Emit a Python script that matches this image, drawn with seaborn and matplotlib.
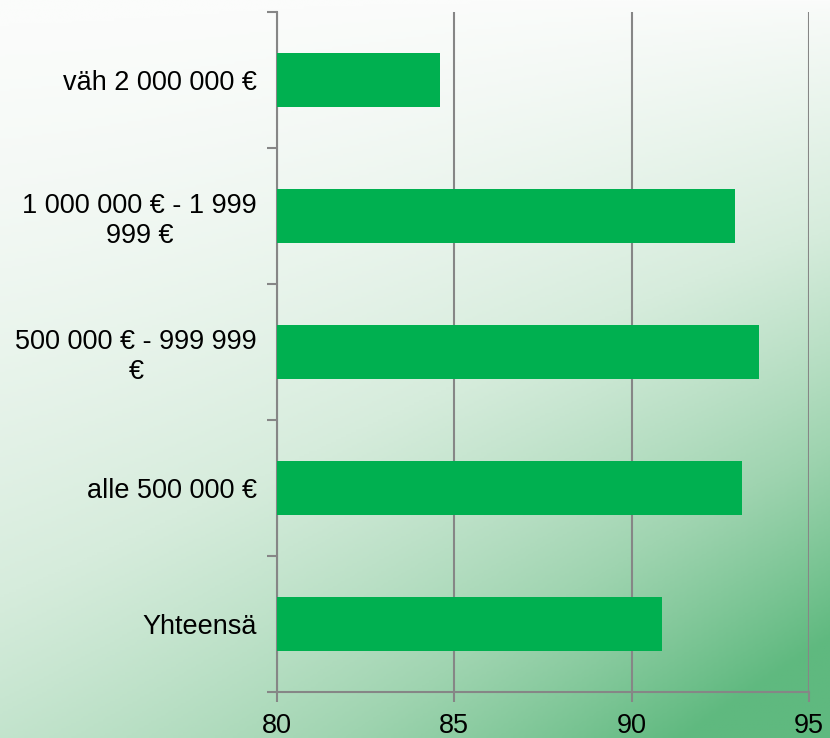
import numpy as np
import pandas as pd
import matplotlib
matplotlib.use('Agg')
import matplotlib.pyplot as plt
from matplotlib.colors import LinearSegmentedColormap
import seaborn as sns

sns.set_style('white')
plt.rcParams['font.family'] = ['Liberation Sans', 'DejaVu Sans']

# Data
categories = ['väh 2 000 000 €', '1 000 000 € - 1 999\n999 €', '500 000 € - 999 999\n€',
              'alle 500 000 €', 'Yhteensä']
values = [84.6, 92.9, 93.6, 93.1, 90.85]
df = pd.DataFrame({'luokka': categories, 'arvo': values})

fig = plt.figure(figsize=(8.3, 7.38), dpi=100)

# background gradient (white top-left -> green bottom-right)
bg = fig.add_axes([0, 0, 1, 1], zorder=-10)
yy, xx = np.mgrid[0:1:300j, 0:1:340j]
t = np.clip(0.75 * yy ** 1.4 * (0.6 + 0.5 * xx) + 0.35 * xx ** 2 * yy ** 0.6, 0, 1)
cmap = LinearSegmentedColormap.from_list('bg', ['#fbfcfb', '#d6ecdc', '#9fd4b0', '#5fb97f'])
bg.imshow(t, cmap=cmap, aspect='auto', extent=[0, 1, 0, 1], origin='upper', vmin=0, vmax=1)
bg.axis('off')

ax = fig.add_axes([277 / 830, 1 - 692 / 738, (809 - 277) / 830, (692 - 12) / 738])
ax.patch.set_alpha(0)
sns.barplot(data=df, x='arvo', y='luokka', color='#00b050', width=0.4, saturation=1,
            linewidth=0, ax=ax, zorder=3)

ax.set_xlim(80, 95)
ax.set_xticks([80, 85, 90, 95])
ax.set_ylim(4.5, -0.5)
ax.set_yticks([0, 1, 2, 3, 4])
ax.set_yticklabels(categories, multialignment='center')
ax.set_yticks(np.arange(-0.5, 5, 1), minor=True)
ax.tick_params(axis='y', which='major', left=False, pad=11, labelsize=19.5, labelcolor='black')
ax.tick_params(axis='y', which='minor', left=True, direction='out', length=7, width=1.5,
               color='#868686')
ax.tick_params(axis='x', bottom=True, direction='out', length=7, width=1.5, color='#868686',
               pad=8, labelsize=19.5, labelcolor='black')
ax.xaxis.grid(True, color='#868686', linewidth=1.5, zorder=0)
ax.set_axisbelow(True)
ax.set(xlabel='', ylabel='')
for side in ['top', 'right']:
    ax.spines[side].set_visible(False)
for side in ['left', 'bottom']:
    ax.spines[side].set_color('#868686')
    ax.spines[side].set_linewidth(1.5)

fig.savefig('out.png', dpi=100)
